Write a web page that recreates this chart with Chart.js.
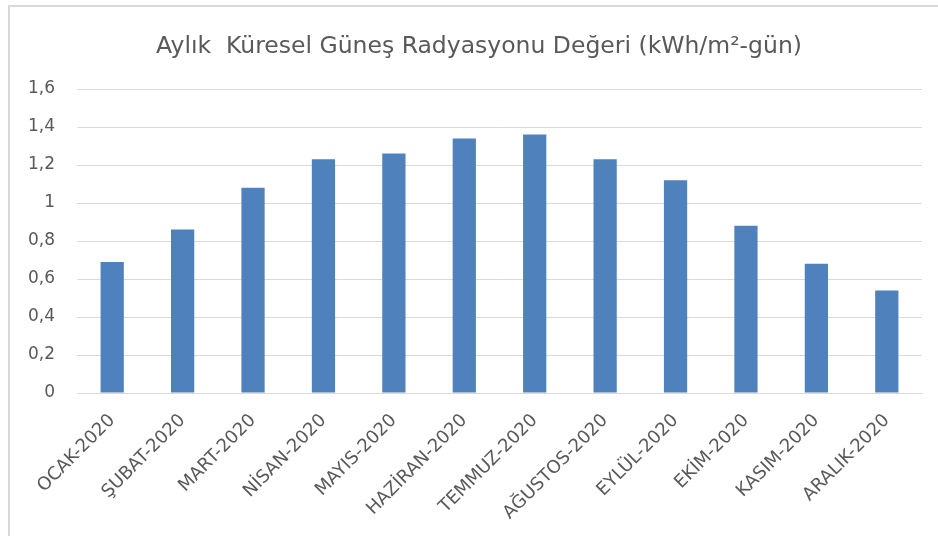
<!DOCTYPE html>
<html>
<head>
<meta charset="utf-8">
<script src="https://cdn.jsdelivr.net/npm/chart.js@4/dist/chart.umd.min.js"></script>
<style>
    html, body { margin: 0; padding: 0; background: #fff; overflow: hidden; }
    #frame {
        position: absolute; left: 8px; top: 5px; width: 1000px; height: 600px;
        border-left: 2px solid #d9d9d9; border-top: 2px solid #d9d9d9;
    }
    #wrap { position: absolute; left: 0; top: 0; width: 938px; height: 536px; }
    #chart-title {
        position: absolute; left: 0; top: 30px; width: 958px; text-align: center;
        font: 23.5px "DejaVu Sans", sans-serif; color: #595959; line-height: 30px;
        white-space: pre;
    }
</style>
</head>
<body>
<div id="frame"></div>
<div id="wrap"><canvas id="radiation-chart" width="938" height="536"></canvas></div>
<div id="chart-title"></div>
<script>
// Monthly global solar radiation, 2020
const months = ['OCAK-2020', 'ŞUBAT-2020', 'MART-2020', 'NİSAN-2020', 'MAYIS-2020', 'HAZİRAN-2020',
                'TEMMUZ-2020', 'AĞUSTOS-2020', 'EYLÜL-2020', 'EKİM-2020', 'KASIM-2020', 'ARALIK-2020'];
const radiation = [0.69, 0.86, 1.08, 1.23, 1.26, 1.34, 1.36, 1.23, 1.12, 0.88, 0.68, 0.54];
const yTicks = [0, 0.2, 0.4, 0.6, 0.8, 1, 1.2, 1.4, 1.6];

const chartTitle = 'Aylık  Küresel Güneş Radyasyonu Değeri (kWh/m²-gün)';
const textColor = '#595959';
const gridColor = '#d9d9d9';
const fontFamily = '"DejaVu Sans", sans-serif';

// title sits a little right of the canvas centre in the original, so it is plain html text
document.getElementById('chart-title').textContent = chartTitle;

new Chart(document.getElementById('radiation-chart').getContext('2d'), {
    type: 'bar',
    data: {
        labels: months,
        datasets: [{
            label: 'Radyasyon',
            data: radiation,
            backgroundColor: '#4f81bd',
            categoryPercentage: 1,
            barPercentage: 0.33
        }]
    },
    options: {
        responsive: false,
        animation: false,
        layout: { padding: { left: 0, right: 16, top: 89, bottom: 0 } },
        plugins: {
            legend: { display: false },
            tooltip: { enabled: false },
            title: { display: false }
        },
        scales: {
            x: {
                grid: { display: false },
                border: { color: gridColor },
                ticks: {
                    color: textColor,
                    font: { family: fontFamily, size: 18 },
                    maxRotation: 45,
                    minRotation: 45,
                    autoSkip: false,
                    padding: 9
                },
                afterFit: (scale) => { scale.height = 143; }
            },
            y: {
                min: 0,
                max: 1.6,
                afterBuildTicks: (scale) => { scale.ticks = yTicks.map(v => ({ value: v })); },
                grid: { color: gridColor, drawTicks: false },
                border: { display: false },
                ticks: {
                    color: textColor,
                    font: { family: fontFamily, size: 17 },
                    padding: 22,
                    callback: (v) => String(Math.round(v * 10) / 10).replace('.', ',')
                },
                afterFit: (scale) => { scale.width = 77; }
            }
        }
    }
});
</script>
</body>
</html>
